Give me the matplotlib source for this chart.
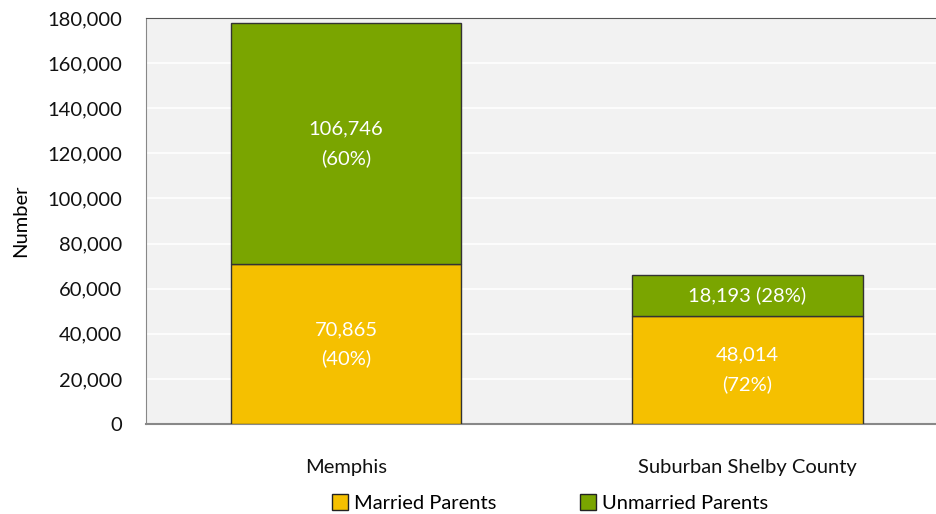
import matplotlib
matplotlib.use("Agg")
import matplotlib.pyplot as plt
from matplotlib.patches import Patch
from matplotlib.ticker import FuncFormatter

plt.rcParams['font.family'] = ['Lato', 'DejaVu Sans']

categories = ["Memphis", "Suburban Shelby County"]
married = [70865, 48014]
unmarried = [106746, 18193]
married_labels = ["70,865\n(40%)", "48,014\n(72%)"]
unmarried_labels = ["106,746\n(60%)", "18,193 (28%)"]

yellow = "#f5c000"
green = "#7aa500"

fig = plt.figure(figsize=(9.37, 5.14), dpi=100)
ax = fig.add_axes([146/937, 1 - 424/514, 1 - 146/937, (424 - 18)/514])
ax.set_facecolor("#f2f2f2")

x = range(len(categories))
w = 0.573
ax.bar(x, married, w, color=yellow, edgecolor="#333333", linewidth=1, zorder=3)
ax.bar(x, unmarried, w, bottom=married, color=green, edgecolor="#333333", linewidth=1, zorder=3)

for i in x:
    ax.text(i, married[i] / 2, married_labels[i], ha="center", va="center",
            color="white", fontsize=14.5, linespacing=1.75, zorder=4)
    ax.text(i, married[i] + unmarried[i] / 2, unmarried_labels[i], ha="center", va="center",
            color="white", fontsize=14.5, linespacing=1.75, zorder=4)

ax.set_xlim(-0.498, 1.472)
ax.set_ylim(0, 180000)
ax.set_yticks(range(0, 180001, 20000))
ax.yaxis.set_major_formatter(FuncFormatter(lambda v, p: f"{int(v):,}"))
ax.grid(axis="y", color="white", linewidth=1.2, zorder=0)
ax.set_xticks(list(x))
ax.set_xticklabels(categories)
ax.tick_params(axis="both", length=0, labelsize=14.5, colors="#111111")
ax.tick_params(axis="x", pad=25)
ax.tick_params(axis="y", pad=17)
ax.set_ylabel("Number", fontsize=14.5, labelpad=13)

ax.spines["top"].set_color("#555555")
ax.spines["left"].set_color("#888888")
ax.spines["bottom"].set_color("#888888")
ax.spines["bottom"].set_linewidth(1.5)
ax.spines["right"].set_visible(False)

handles = [Patch(facecolor=yellow, edgecolor="#222222", label="Married Parents"),
           Patch(facecolor=green, edgecolor="#222222", label="Unmarried Parents")]
fig.legend(handles=handles, loc="center", bbox_to_anchor=(0.587, 1 - 503/514), ncol=2,
           frameon=False, fontsize=14.5, handlelength=0.8, handleheight=0.8,
           handletextpad=0.3, columnspacing=4.15)

fig.savefig("out.png", dpi=100)
